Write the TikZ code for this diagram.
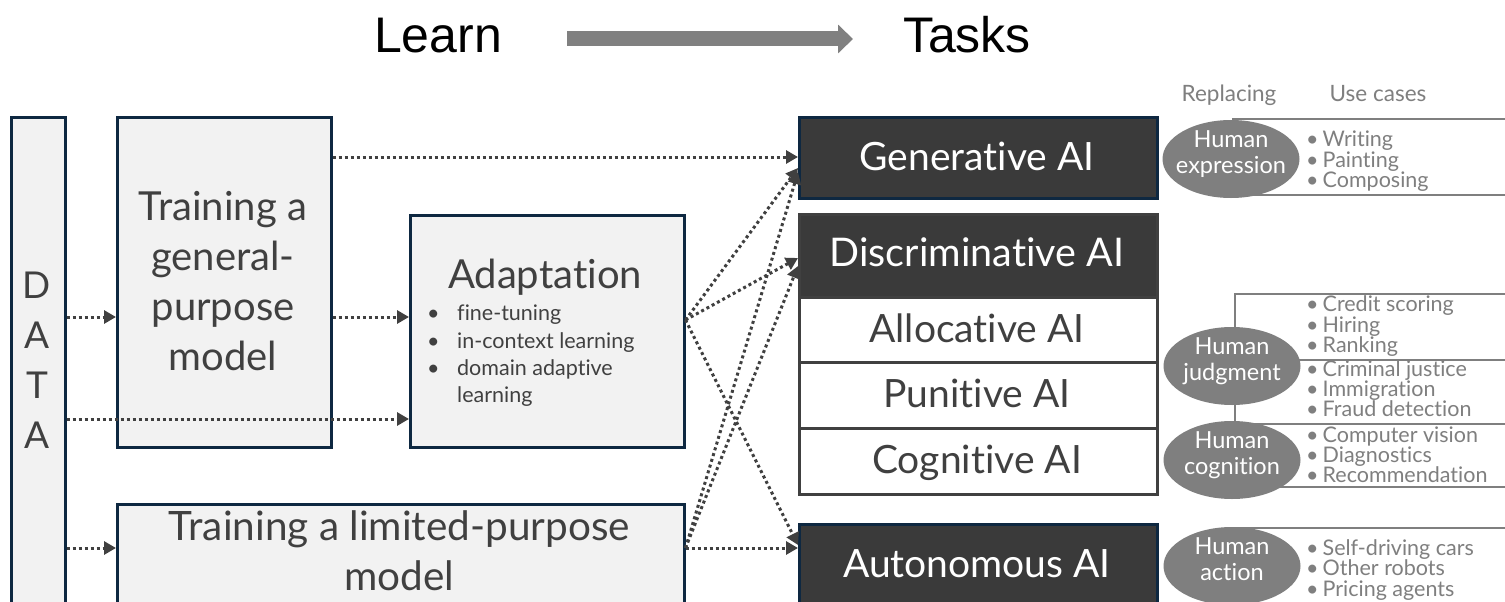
\documentclass[tikz,border=0pt]{standalone}
\usepackage{fontspec}
\setmainfont{Lato}[Ligatures=NoCommon]
\newfontfamily\headfont{Liberation Sans}
\usetikzlibrary{shapes.geometric,arrows.meta}
\definecolor{navy}{HTML}{0E2841}
\definecolor{darkfill}{HTML}{3A3A3A}
\definecolor{lightfill}{HTML}{F2F2F2}
\definecolor{txt}{HTML}{404040}
\definecolor{midgray}{HTML}{7F7F7F}
\definecolor{arrowgray}{HTML}{808080}
\newcommand{\fsz}[1]{\fontsize{#1}{#1}\selectfont}
\begin{document}
\begin{tikzpicture}[x=1pt,y=-1pt,
  lbox/.style={draw=navy, line width=2.5pt, fill=lightfill, inner sep=0pt, anchor=north west},
  dbox/.style={draw=navy, line width=2.5pt, fill=darkfill, inner sep=0pt, anchor=north west},
  wbox/.style={draw=txt, line width=2.5pt, fill=white, inner sep=0pt, anchor=north west},
  hbox/.style={draw=txt, line width=2.5pt, fill=darkfill, inner sep=0pt, anchor=north west},
  ltext/.style={text=txt, anchor=base, inner sep=0pt},
  wtext/.style={text=white, anchor=base, inner sep=0pt},
  conn/.style={draw=txt, line width=3pt, dash pattern=on 3pt off 3pt,
     -{Triangle[length=12pt,width=13pt]}},
  bigarrow/.style={draw=arrowgray, line width=15pt, -{Triangle[length=15pt,width=28pt]}},
  brk/.style={draw=midgray, line width=2.5pt},
  ell/.style={ellipse, fill=midgray, minimum width=137pt, minimum height=78pt, inner sep=0pt},
  etext/.style={text=white, anchor=base, inner sep=0pt, font=\fsz{23.5}},
  uc/.style={text=midgray, anchor=base west, inner sep=0pt, font=\fsz{21.5}},
  hd/.style={text=midgray, anchor=base, inner sep=0pt, font=\fsz{22.5}},
  abul/.style={text=txt, anchor=base west, inner sep=0pt, font=\fsz{21.5}}
]
\clip (0,0) rectangle (1505,602);
\fill[white] (0,0) rectangle (1505,602);

% header
\node[font=\headfont\fsz{50}, anchor=base, inner sep=0pt] (learn) at (438,53) {Learn};
\node[font=\headfont\fsz{50}, anchor=base, inner sep=0pt] (tasks) at (967,53) {Tasks};
\coordinate (hs) at (567,39);
\coordinate (he) at (853,39);
\draw[bigarrow] (hs) -- (he);

% left column
\node[lbox, minimum width=54pt, minimum height=540pt] (data) at (10,116) {};
\foreach \l/\yy [count=\i] in {D/298,A/348,T/398,A/448}
  \node[ltext, font=\fsz{37}] (dl\i) at (37,\yy) {\l};

\node[lbox, minimum width=214pt, minimum height=330pt] (gen) at (116,116) {};
\foreach \l/\yy [count=\i] in {Training a/220,general-/270,purpose/320,model/370}
  \node[ltext, font=\fsz{40}] (gl\i) at (223,\yy) {\l};

\node[lbox, minimum width=274pt, minimum height=232pt] (adapt) at (409,214) {};
\node[ltext, font=\fsz{40}] (adt) at (545,288) {Adaptation};
\foreach \yy [count=\i] in {320,348,375}
  \node[abul] (ab\i) at (427,\yy) {\textbullet};
\foreach \l/\yy [count=\i] in {fine-tuning/320,in-context learning/348,domain adaptive/375,learning/402}
  \node[abul] (at\i) at (457,\yy) {\l};

\node[lbox, minimum width=567pt, minimum height=140pt] (lim) at (116,503) {};
\node[ltext, font=\fsz{40.5}] (lt1) at (399.5,540) {Training a limited-purpose};
\node[ltext, font=\fsz{40.5}] (lt2) at (399.5,590) {model};

% middle column
\node[dbox, minimum width=358pt, minimum height=81pt] (genai) at (798,116) {};
\node[hbox, minimum width=358pt, minimum height=83pt] (dischead) at (798,213) {};
\node[wbox, minimum width=358pt, minimum height=65pt] (alloc) at (798,296) {};
\node[wbox, minimum width=358pt, minimum height=66pt] (pun) at (798,361) {};
\node[wbox, minimum width=358pt, minimum height=66pt] (cog) at (798,427) {};
\node[dbox, minimum width=358pt, minimum height=120pt] (auton) at (798,523) {};
\node[wtext, font=\fsz{39}] (t1) at (977,170) {Generative AI};
\node[wtext, font=\fsz{39.5}] (t2) at (977,266) {Discriminative AI};
\node[ltext, font=\fsz{39}] (t3) at (977,342) {Allocative AI};
\node[ltext, font=\fsz{39}] (t4) at (977,407) {Punitive AI};
\node[ltext, font=\fsz{39}] (t5) at (977,473) {Cognitive AI};
\node[wtext, font=\fsz{39}] (t6) at (977,577) {Autonomous AI};

% connectors
\draw[conn] (data.east |- 0,317) -- (gen.west |- 0,317);
\draw[conn] (data.east |- 0,548) -- (lim.west |- 0,548);
\draw[conn] (data.east |- 0,419) -- (adapt.west |- 0,419);
\draw[conn] (gen.east |- 0,317) -- (adapt.west |- 0,317);
\draw[conn] (gen.east |- 0,157) -- (genai.west |- 0,157);
\draw[conn] (adapt.east |- 0,320) -- (genai.west |- 0,168);
\draw[conn] (adapt.east |- 0,320) -- (dischead.west |- 0,258);
\draw[conn] (adapt.east |- 0,320) -- (auton.west |- 0,545);
\draw[conn] (lim.east |- 0,548) -- (genai.west |- 0,172);
\draw[conn] (lim.east |- 0,548) -- (dischead.west |- 0,266);
\draw[conn] (lim.east |- 0,548) -- (auton.west |- 0,548);

% right column
\coordinate (redge) at (1510,0);
\node[hd] (rep) at (1229,101) {Replacing};
\node[hd] (use) at (1378,101) {Use cases};

\coordinate (ce) at (1232,0);
\draw[brk] (ce |- 0,119) -- (redge |- 0,119);
\draw[brk] (ce |- 0,195) -- (redge |- 0,195);
\draw[brk] (1235,461) -- (1235,294) -- (redge |- 0,294);
\draw[brk] (ce |- 0,360) -- (redge |- 0,360);
\draw[brk] (ce |- 0,424) -- (redge |- 0,424);
\draw[brk] (ce |- 0,487) -- (redge |- 0,487);
\draw[brk] (ce |- 0,528) -- (redge |- 0,528);

\node[ell] (expr) at (1231,159) {};
\node[ell] (judg) at (1232,366) {};
\node[ell] (cogn) at (1232,460) {};
\node[ell] (act) at (1232,566) {};
\node[etext] (e1) at (1231,147) {Human};
\node[etext] (e2) at (1231,173) {expression};
\node[etext] (j1) at (1232,354) {Human};
\node[etext] (j2) at (1232,380) {judgment};
\node[etext] (c1) at (1232,448) {Human};
\node[etext] (c2) at (1232,474) {cognition};
\node[etext] (a1) at (1232,554) {Human};
\node[etext] (a2) at (1232,580) {action};

\foreach \l/\yy [count=\i] in {Writing/146,Painting/167,Composing/187,
   Credit scoring/311,Hiring/332,Ranking/352,Criminal justice/376,Immigration/396,Fraud detection/416,
   Computer vision/442,Diagnostics/462,Recommendation/482,
   Self-driving cars/555,Other robots/575.5,Pricing agents/596}
  \node[uc] (u\i) at (1306,\yy) {\textbullet\hspace{4pt}\l};
\end{tikzpicture}
\end{document}
